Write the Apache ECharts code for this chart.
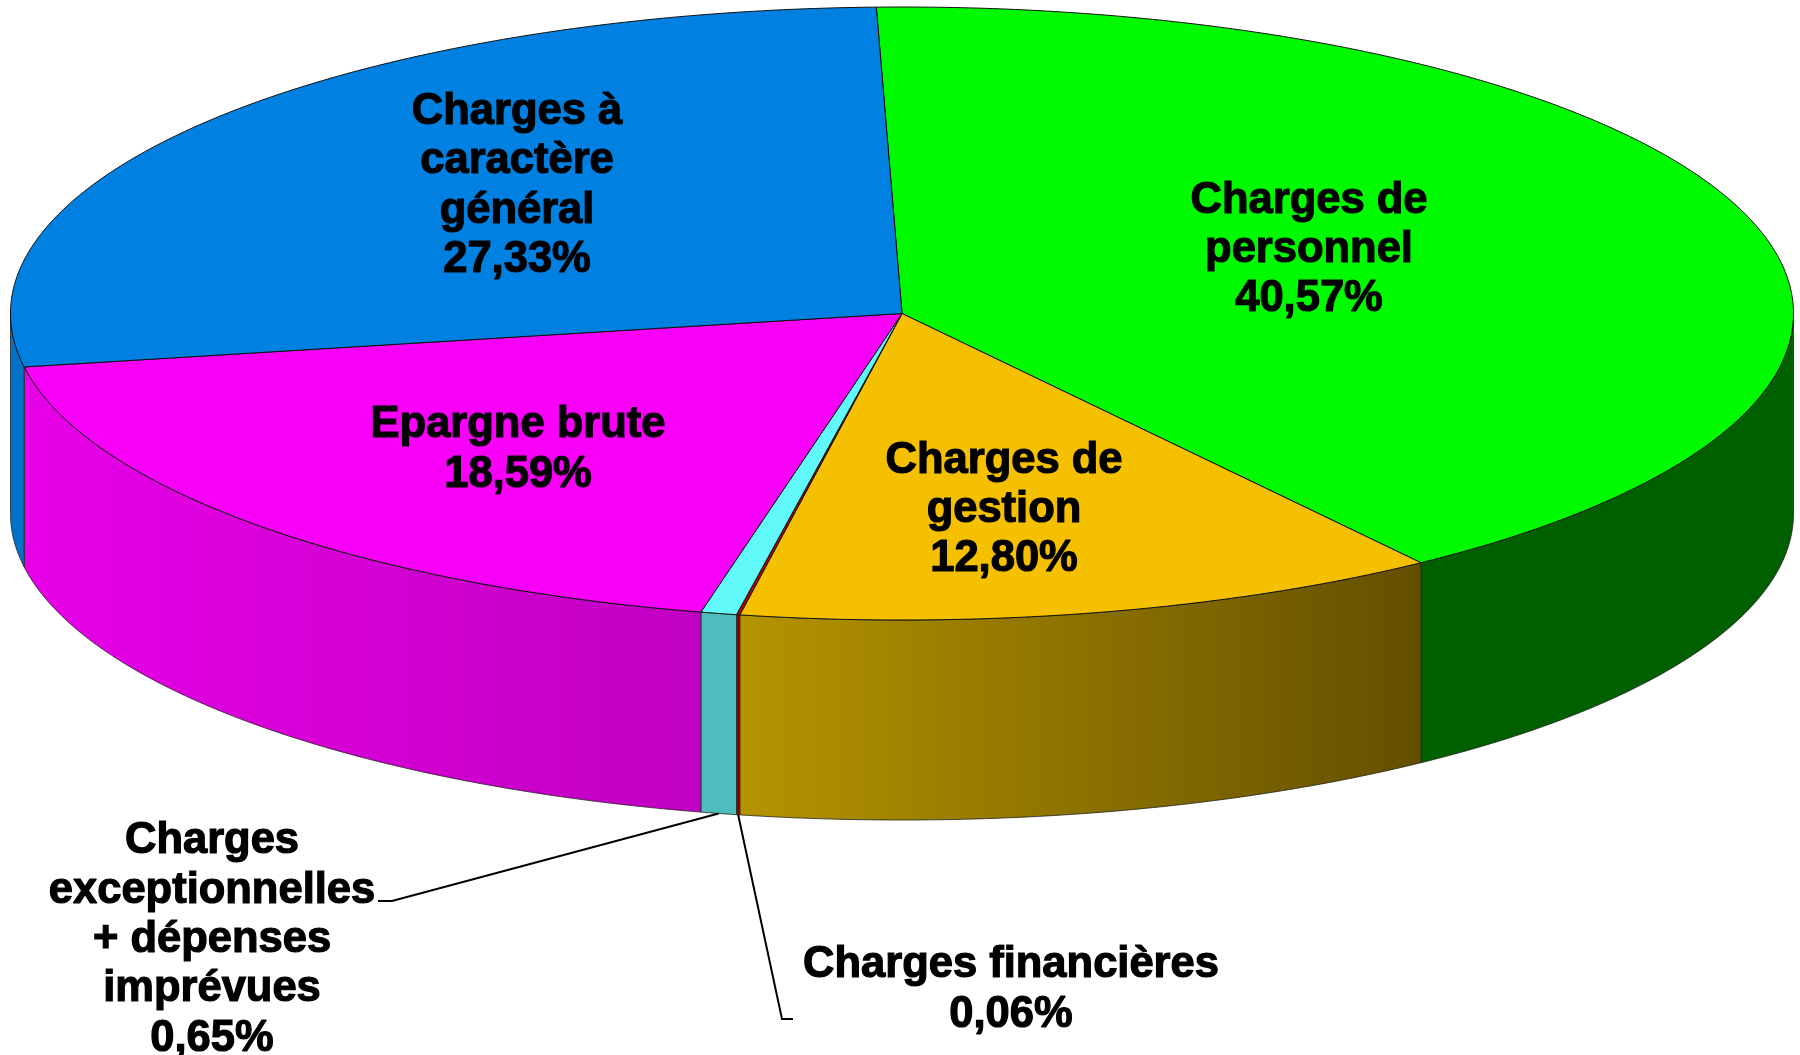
<!DOCTYPE html>
<html>
<head>
<meta charset="utf-8">
<style>
  html, body { margin: 0; padding: 0; background: #fff; }
  #chart { width: 1800px; height: 1055px; }
</style>
<script src="https://cdn.jsdelivr.net/npm/echarts@6/dist/echarts.min.js"></script>
</head>
<body>
<div id="chart"></div>
<script>
// data
const names = [
  "Charges de\npersonnel",
  "Charges de\ngestion",
  "Charges financières",
  "Charges\nexceptionnelles\n+ dépenses\nimprévues",
  "Epargne brute",
  "Charges à\ncaractère\ngénéral"
];
const values = [40.57, 12.8, 0.06, 0.65, 18.59, 27.33];

// colours
const topColors = ["#00fa00", "#f5c000", "#c00000", "#60f8f8", "#f800f8", "#0080e0"];
const sideFrom = ["#006000", "#b59400", "#8b0000", "#4dbdbd", "#e800e8", "#0072c8"];
const sideTo = ["#006000", "#634f00", "#8b0000", "#4dbdbd", "#c000c0", "#0072c8"];

// layout of the pie, in pixels
const cx = 902, cy = 313.5, rx = 891.5, ry = 306.5, depth = 200;
const startAngle = -1.65;
const labelPos = [[1309, 250], [1004, 510], [1011, 990], [212, 940], [518, 450], [517, 186]];
// elbows of the leader lines, only for the two thin slices
const leaders = { 2: [[782, 1019], [793, 1019]], 3: [[392, 901], [378, 901]] };

const total = values.reduce((a, b) => a + b, 0);
let acc = 0;
const ranges = values.map((v) => {
  const a0 = startAngle + (acc / total) * 360;
  acc += v;
  return [a0, startAngle + (acc / total) * 360];
});

// point on the rim, angle clockwise from the top
const rim = (deg, dy) => {
  const r = (deg * Math.PI) / 180;
  return [cx + rx * Math.sin(r), cy - ry * Math.cos(r) + (dy || 0)];
};

const arc = (a0, a1, dy) => {
  const pts = [];
  const n = Math.max(2, Math.ceil((a1 - a0) / 0.5));
  for (let i = 0; i <= n; i++) pts.push(rim(a0 + ((a1 - a0) * i) / n, dy));
  return pts;
};

const renderSide = (params) => {
  const i = params.dataIndex;
  const a0 = Math.max(ranges[i][0], 90);
  const a1 = Math.min(ranges[i][1], 270);
  if (a1 <= a0) return { type: "group", children: [] };
  return {
    type: "polygon",
    shape: { points: arc(a0, a1, 0).concat(arc(a0, a1, depth).reverse()) },
    style: {
      fill: new echarts.graphic.LinearGradient(0, 0, 1, 0, [
        { offset: 0, color: sideFrom[i] },
        { offset: 1, color: sideTo[i] }
      ]),
      stroke: "#222",
      lineWidth: 0.8,
      lineJoin: "round"
    }
  };
};

const renderTop = (params) => {
  const i = params.dataIndex;
  return {
    type: "polygon",
    shape: { points: [[cx, cy]].concat(arc(ranges[i][0], ranges[i][1], 0)) },
    style: { fill: topColors[i], stroke: "#111", lineWidth: 1, lineJoin: "round" }
  };
};

const renderLabel = (params) => {
  const i = params.dataIndex;
  const children = [];
  if (leaders[i]) {
    const mid = (ranges[i][0] + ranges[i][1]) / 2;
    children.push({
      type: "polyline",
      shape: { points: [rim(mid, depth)].concat(leaders[i]) },
      style: { stroke: "#000", lineWidth: 2, fill: null }
    });
  }
  children.push({
    type: "text",
    x: labelPos[i][0],
    y: labelPos[i][1],
    style: {
      text: names[i] + "\n" + values[i].toFixed(2).replace(".", ",") + "%",
      fontFamily: "Liberation Sans",
      fontWeight: "bold",
      fontSize: 43.5,
      lineHeight: 49.3,
      align: "center",
      verticalAlign: "middle",
      fill: "#000",
      stroke: "#000",
      lineWidth: 1.2,
      lineJoin: "round"
    }
  });
  return { type: "group", children };
};

const chart = echarts.init(document.getElementById("chart"));
const series = [renderSide, renderTop, renderLabel].map((fn, k) => ({
  type: "custom",
  coordinateSystem: "none",
  renderItem: fn,
  data: values,
  z: k + 1,
  silent: true,
  clip: false
}));
chart.setOption({ animation: false, backgroundColor: "#fff", series });
</script>
</body>
</html>
